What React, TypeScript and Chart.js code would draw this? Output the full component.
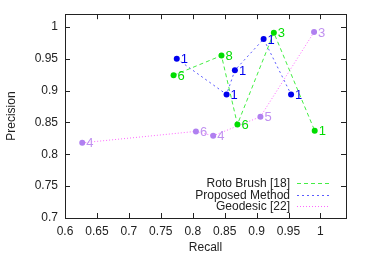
import React, { useEffect, useRef } from "react";
import { Chart, registerables } from "chart.js";

Chart.register(...registerables);

const rotoRecall = [0.770, 0.845, 0.870, 0.927, 0.991];
const rotoPrecision = [0.924, 0.955, 0.847, 0.991, 0.837];
const rotoLabels = ["6", "8", "6", "3", "1"];

const proposedRecall = [0.775, 0.853, 0.866, 0.911, 0.954];
const proposedPrecision = [0.950, 0.894, 0.932, 0.981, 0.894];
const proposedLabels = ["1", "1", "1", "1", "1"];

const geoRecall = [0.627, 0.805, 0.832, 0.906, 0.990];
const geoPrecision = [0.818, 0.836, 0.829, 0.859, 0.992];
const geoLabels = ["4", "6", "4", "5", "3"];

const seriesNames = ["Roto Brush [18]", "Proposed Method", "Geodesic [22]"];

const xTicks = [0.6, 0.65, 0.7, 0.75, 0.8, 0.85, 0.9, 0.95, 1];
const yTicks = [0.7, 0.75, 0.8, 0.85, 0.9, 0.95, 1];

const FONT = "'Liberation Sans', Arial, sans-serif";

const lineColors = ["#44ee44", "#5a5aff", "#ff66ff"];
const lineDashes = [[4, 3], [2, 3], [1, 2]];

const toPoints = (xs: number[], ys: number[]) => xs.map((x, i) => ({ x, y: ys[i] }));

export default function App() {
  const ref = useRef<HTMLCanvasElement | null>(null);
  useEffect(() => {
    if (!ref.current) return;
    const labelSets = [rotoLabels, proposedLabels, geoLabels];
    const labelColors = ["#00dd00", "#0000ee", "#c090f0"];

    const framePlugin = {
      id: "frame",
      afterDatasetsDraw(chart: any) {
        const ctx = chart.ctx;
        const a = chart.chartArea;
        const xs = chart.scales.x;
        const ys = chart.scales.y;
        ctx.save();
        ctx.font = `13px ${FONT}`;
        ctx.textAlign = "left";
        ctx.textBaseline = "middle";
        chart.data.datasets.forEach((ds: any, di: number) => {
          const meta = chart.getDatasetMeta(di);
          meta.data.forEach((el: any, i: number) => {
            ctx.fillStyle = labelColors[di];
            ctx.fillText(labelSets[di][i], el.x + 4, el.y + 1);
          });
        });
        ctx.strokeStyle = "#222";
        ctx.lineWidth = 1;
        ctx.setLineDash([]);
        ctx.strokeRect(Math.round(a.left) + 0.5, Math.round(a.top) + 0.5, Math.round(a.right - a.left), Math.round(a.bottom - a.top));
        const tl = 5;
        ctx.beginPath();
        xTicks.forEach((v) => {
          const px = Math.round(xs.getPixelForValue(v)) + 0.5;
          ctx.moveTo(px, a.bottom);
          ctx.lineTo(px, a.bottom - tl);
          ctx.moveTo(px, a.top);
          ctx.lineTo(px, a.top + tl);
        });
        yTicks.forEach((v) => {
          const py = Math.round(ys.getPixelForValue(v)) + 0.5;
          ctx.moveTo(a.left, py);
          ctx.lineTo(a.left + tl, py);
          ctx.moveTo(a.right, py);
          ctx.lineTo(a.right - tl, py);
        });
        ctx.stroke();
        ctx.font = `12px ${FONT}`;
        ctx.textAlign = "right";
        ctx.textBaseline = "middle";
        const rows = [183, 194.5, 206];
        seriesNames.forEach((name, di) => {
          const y = rows[di];
          ctx.fillStyle = "#222";
          ctx.fillText(name, a.right - 56, y + 1);
          ctx.strokeStyle = lineColors[di];
          ctx.lineWidth = 1.2;
          ctx.setLineDash(lineDashes[di]);
          ctx.beginPath();
          ctx.moveTo(a.right - 49, Math.round(y) + 0.5);
          ctx.lineTo(a.right - 16, Math.round(y) + 0.5);
          ctx.stroke();
        });
        ctx.restore();
      },
    };

    const mk = (i: number, xs: number[], ys: number[], pc: string) => ({
      label: seriesNames[i],
      data: toPoints(xs, ys),
      showLine: true,
      borderColor: lineColors[i],
      borderWidth: 1,
      borderDash: lineDashes[i],
      pointBackgroundColor: pc,
      pointBorderWidth: 0,
      pointRadius: 3,
    });

    const chart = new Chart(ref.current, {
      type: "scatter",
      data: {
        datasets: [
          mk(0, rotoRecall, rotoPrecision, "#00dd00"),
          mk(1, proposedRecall, proposedPrecision, "#0000ee"),
          mk(2, geoRecall, geoPrecision, "#b080f0"),
        ],
      },
      options: {
        responsive: false,
        animation: false,
        layout: { padding: { left: 0, top: 14, right: 20, bottom: 0 } },
        plugins: { legend: { display: false }, tooltip: { enabled: false } },
        scales: {
          x: {
            type: "linear",
            min: 0.6,
            max: 1.04,
            afterBuildTicks: (s: any) => {
              s.ticks = xTicks.map((v) => ({ value: v }));
            },
            afterFit: (s: any) => {
              s.height = 38;
            },
            grid: { display: false, drawTicks: false },
            border: { display: false },
            ticks: {
              color: "#222",
              font: { family: FONT, size: 12 },
              padding: 6,
              maxRotation: 0,
              autoSkip: false,
              callback: (v: any) => String(Number(v)),
            },
            title: {
              display: true,
              text: "Recall",
              color: "#222",
              font: { family: FONT, size: 12 },
              padding: { top: 0, bottom: 1 },
            },
          },
          y: {
            type: "linear",
            min: 0.7,
            max: 1.02,
            afterBuildTicks: (s: any) => {
              s.ticks = yTicks.map((v) => ({ value: v }));
            },
            afterFit: (s: any) => {
              s.width = 65;
            },
            grid: { display: false, drawTicks: false },
            border: { display: false },
            ticks: {
              color: "#222",
              font: { family: FONT, size: 12 },
              padding: 7,
              autoSkip: false,
              callback: (v: any) => String(Number(v)),
            },
            title: {
              display: true,
              text: "Precision",
              color: "#222",
              font: { family: FONT, size: 12 },
              padding: { top: 4, bottom: 0 },
            },
          },
        },
      },
      plugins: [framePlugin],
    });
    return () => chart.destroy();
  }, []);
  return (
    <div style={{ position: "absolute", left: 0, top: 0, width: 366, height: 256, background: "#fff" }}>
      <canvas ref={ref} width={366} height={256} style={{ width: 366, height: 256 }} />
    </div>
  );
}
